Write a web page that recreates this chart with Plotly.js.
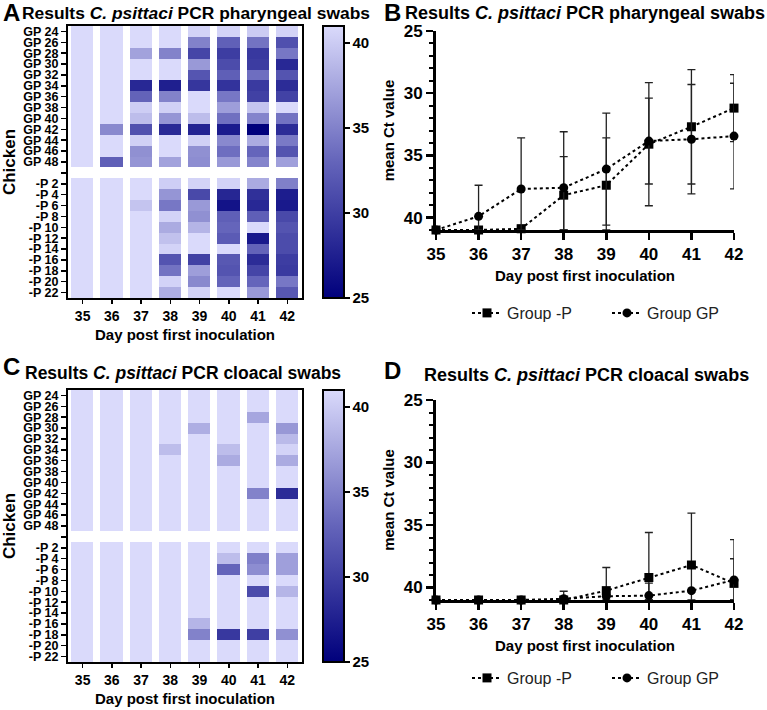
<!DOCTYPE html>
<html>
<head>
<meta charset="utf-8">
<script src="https://cdn.plot.ly/plotly-3.0.1.min.js"></script>
<style>html,body{margin:0;padding:0;background:#fff;}#chart{width:767px;height:710px;}</style>
</head>
<body>
<div id="chart"></div>
<script>
// ---------- DATA ----------
const days = [35, 36, 37, 38, 39, 40, 41, 42];
const gpLabels = ['GP 24','GP 26','GP 28','GP 30','GP 32','GP 34','GP 36','GP 38','GP 40','GP 42','GP 44','GP 46','GP 48'];
const pLabels = ['-P 2','-P 4','-P 6','-P 8','-P 10','-P 12','-P 14','-P 16','-P 18','-P 20','-P 22'];
const blankLabel = ' ';

// Pharyngeal swabs, Ct per chicken (columns = days 35..42)
const pharGP = [
  [41,41,41,41,40.5,40.5,40,40.5],
  [41,41,41,41,35,32.7,34,31.4],
  [41,41,37.2,35,30.5,29.9,29.5,34.3],
  [41,41,41,41,36.6,31.1,29.8,28.2],
  [41,41,41,41,31.8,32.6,33.7,31.7],
  [41,41,28.2,27.5,29.3,29.1,29.6,28.5],
  [41,41,32.9,35,41,34.3,30.2,30.3],
  [41,41,40.1,40.3,41,36.9,39.5,41],
  [41,41,39,36.3,39,33.8,35.2,34],
  [41,35.5,31.4,28.3,27.8,27.2,25,28.5],
  [41,41,40.3,41,40.3,35.5,37.8,34.5],
  [41,41,36,41,36,33.7,33.1,31.7],
  [41,32.6,36.3,37.2,35.8,36.6,35.2,37]
];
const pharP = [
  [41,41,41,40.2,40.5,40.5,37.8,34.9],
  [41,41,41,36.3,30.8,28,28.8,27.3],
  [41,41,39.5,34.3,36.6,26.5,28.2,27],
  [41,41,41,40.5,36,32.6,32.6,30.8],
  [41,41,41,37.8,38.4,33.1,41,31.7],
  [41,41,41,39.3,41,32.3,27,31.1],
  [41,41,41,40.5,41,41,32.9,31.1],
  [41,41,41,31.7,30.2,32,28.5,29.9],
  [41,41,41,34,36.9,31.7,30.5,29.6],
  [41,41,41,40.5,35.5,32.9,33.1,34.3],
  [41,41,41,38.1,40.5,41,36.6,32]
];
// Cloacal swabs
const clocGP = [
  [41,41,41,41,41,41,41,41],
  [41,41,41,41,41,41,41,41],
  [41,41,41,41,41,41,37.5,41],
  [41,41,41,41,38,41,41,36.5],
  [41,41,41,41,41,41,41,38.8],
  [41,41,41,39,41,39,41,40.5],
  [41,41,41,41,41,37.8,41,37.8],
  [41,41,41,41,41,41,41,41],
  [41,41,41,41,41,41,41,41],
  [41,41,41,41,41,41,35,28.5],
  [41,41,41,41,41,41,41,41],
  [41,41,41,41,41,41,41,41],
  [41,41,41,41,41,41,41,41]
];
const clocP = [
  [41,41,41,41,41,41,41,41],
  [41,41,41,41,41,39,34.8,37],
  [41,41,41,41,41,33,35.8,37],
  [41,41,41,41,41,41,41,41],
  [41,41,41,41,41,41,31,38.5],
  [41,41,41,41,41,41,41,41],
  [41,41,41,41,41,41,41,41],
  [41,41,41,41,38.5,41,41,41],
  [41,41,41,41,35,29.5,30,36],
  [41,41,41,41,41,41,41,41],
  [41,41,41,41,41,41,41,41]
];

// Mean Ct values with SD
const pharMeanP  = [41, 41, 40.9, 38.2, 37.4, 34.1, 32.7, 31.2];
const pharSdP    = [0, 0, 0.3, 3.1, 3.8, 4.95, 4.6, 2.7];
const pharMeanGP = [41, 39.9, 37.7, 37.6, 36.1, 33.85, 33.7, 33.45];
const pharSdGP   = [0, 2.5, 4.1, 4.5, 4.5, 3.45, 4.4, 4.25];
const clocMeanP  = [41, 41, 41, 41, 40.25, 39.2, 38.2, 39.67];
const clocSdP    = [0, 0, 0, 0, 1.85, 3.6, 4.15, 3.5];
const clocMeanGP = [41, 41, 41, 40.9, 40.7, 40.65, 40.25, 39.4];
const clocSdGP   = [0, 0, 0, 0.6, 0, 1.0, 0, 1.7];

const seriesNames = ['Group -P', 'Group GP'];
const ctMax = 41, ctMin = 25;

// ---------- BUILD ----------
const W = 767, H = 710;
const px = v => v / W;
const py = v => 1 - v / H;
const FONT = 'Liberation Sans, Arial, Helvetica, sans-serif';
const yLabels = [...gpLabels, blankLabel, ...pLabels];
const blankRow = days.map(() => null);
const zPhar = [...pharGP, blankRow, ...pharP];
const zCloc = [...clocGP, blankRow, ...clocP];
const cscale = [[0, 'rgb(0,0,124)'], [0.5, 'rgb(100,100,186)'], [1, 'rgb(218,218,251)']];

function heat(z, xa, ya, cbY) {
  return {
    type: 'heatmap', x: days, y: yLabels, z: z, xaxis: xa, yaxis: ya,
    zmin: ctMin, zmax: ctMax, colorscale: cscale, xgap: 7, ygap: 0,
    hoverongaps: false, showlegend: false,
    colorbar: {
      x: px(323), xanchor: 'left', y: cbY, yanchor: 'middle',
      len: 272 / H, lenmode: 'fraction', thickness: 21, thicknessmode: 'pixels',
      outlinewidth: 2, outlinecolor: '#000', xpad: 0, ypad: 0,
      tickvals: [25, 30, 35, 40], ticks: 'outside', ticklen: 5, tickwidth: 1.5, tickcolor: '#000',
      tickfont: {family: FONT, size: 15, weight: 'bold', color: '#000'}
    }
  };
}

function errArr(mean, sd) { return mean.map((m, i) => Math.min(sd[i], ctMax - m)); }

function line(mean, sd, name, symbol, xa, ya, legend, showLegend) {
  return {
    type: 'scatter', mode: 'lines+markers', x: days, y: mean, name: name,
    xaxis: xa, yaxis: ya, legend: legend, showlegend: showLegend, cliponaxis: false,
    line: {color: '#000', dash: 'dot', width: 2},
    marker: {symbol: symbol, size: 9, color: '#000'},
    error_y: {type: 'data', symmetric: false, array: errArr(mean, sd), arrayminus: sd,
              color: '#222', thickness: 1.3, width: 4}
  };
}

const data = [
  heat(zPhar, 'x', 'y', py(162)),
  line(pharMeanP, pharSdP, seriesNames[0], 'square', 'x2', 'y2', 'legend', true),
  line(pharMeanGP, pharSdGP, seriesNames[1], 'circle', 'x2', 'y2', 'legend', true),
  heat(zCloc, 'x3', 'y3', py(526)),
  line(clocMeanP, clocSdP, seriesNames[0], 'square', 'x4', 'y4', 'legend2', true),
  line(clocMeanGP, clocSdGP, seriesNames[1], 'circle', 'x4', 'y4', 'legend2', true)
];

const boldTick = s => ({family: FONT, size: s, weight: 'bold', color: '#000'});
const axTitle = (t, s, standoff) => ({text: t, font: {family: FONT, size: s, weight: 'bold', color: '#000'}, standoff: standoff});

function heatX(anchor) {
  return {domain: [px(68), px(302)], anchor: anchor, range: [34.5, 42.5], tickmode: 'array', tickvals: days,
    ticks: 'outside', ticklen: 4, tickwidth: 1.5, tickcolor: '#000', showline: true, mirror: true,
    linewidth: 2, linecolor: '#000', showgrid: false, zeroline: false, tickfont: boldTick(14),
    title: axTitle('Day post first inoculation', 15, 7), automargin: false};
}
function heatY(top, bottom, anchor) {
  return {domain: [py(bottom), py(top)], anchor: anchor, type: 'category', autorange: 'reversed',
    tickmode: 'array', tickvals: yLabels, ticktext: yLabels, ticks: 'outside', ticklen: 5, tickwidth: 1.5,
    tickcolor: '#000', showline: true, mirror: true, linewidth: 2, linecolor: '#000', showgrid: false,
    zeroline: false, tickfont: boldTick(12.5), title: axTitle('Chicken', 17, 3), automargin: false};
}
function lineX(anchor) {
  return {domain: [px(436), px(734)], anchor: anchor, range: [35, 42], tickmode: 'array', tickvals: days,
    ticks: 'outside', ticklen: 7, tickwidth: 2.5, tickcolor: '#000', showline: true, linewidth: 3,
    linecolor: '#000', showgrid: false, zeroline: false, tickfont: boldTick(17),
    title: axTitle('Day post first inoculation', 15, 8), automargin: false};
}
function lineY(top, bottom, anchor) {
  return {domain: [py(bottom), py(top)], anchor: anchor, range: [ctMax, ctMin], tickmode: 'array',
    tickvals: [25, 30, 35, 40], ticks: 'outside', ticklen: 7, tickwidth: 2.5, tickcolor: '#000',
    minor: {tickmode: 'linear', tick0: 25, dtick: 1, ticks: 'outside', ticklen: 4, tickwidth: 2, tickcolor: '#000'},
    showline: true, linewidth: 3, linecolor: '#000', showgrid: false, zeroline: false,
    tickfont: boldTick(17), title: axTitle('mean Ct value', 15, 6), automargin: false};
}
function legendAt(yPx) {
  return {orientation: 'h', x: px(467), xanchor: 'left', y: py(yPx), yanchor: 'middle',
    font: {family: FONT, size: 16, color: '#222'}, bgcolor: 'rgba(0,0,0,0)',
    entrywidth: 95, entrywidthmode: 'pixels', traceorder: 'normal'};
}

const ann = (x, y, text, size) => ({xref: 'paper', yref: 'paper', x: x, y: y, xanchor: 'left', yanchor: 'middle',
  text: text, showarrow: false, font: {family: FONT, size: size, color: '#000'}});

const layout = {
  width: W, height: H, margin: {l: 0, r: 0, t: 0, b: 0}, paper_bgcolor: '#fff', plot_bgcolor: '#fff',
  font: {family: FONT, color: '#000'},
  xaxis: heatX('y'), yaxis: heatY(26, 298, 'x'),
  xaxis2: lineX('y2'), yaxis2: lineY(31, 230, 'x2'),
  xaxis3: heatX('y3'), yaxis3: heatY(390, 662, 'x3'),
  xaxis4: lineX('y4'), yaxis4: lineY(400, 600, 'x4'),
  legend: legendAt(313), legend2: legendAt(678),
  annotations: [
    ann(px(1), py(13), '<b>A</b>', 24),
    ann(px(20), py(13), '<b>Results <i>C. psittaci</i> PCR pharyngeal swabs</b>', 17.4),
    ann(px(382), py(13), '<b>B</b>', 24),
    ann(px(403), py(13), '<b>Results <i>C. psittaci</i> PCR pharyngeal swabs</b>', 18),
    ann(px(1), py(366), '<b>C</b>', 24),
    ann(px(23), py(373), '<b>Results <i>C. psittaci</i> PCR cloacal swabs</b>', 17.5),
    ann(px(382), py(370), '<b>D</b>', 24),
    ann(px(422), py(375), '<b>Results <i>C. psittaci</i> PCR cloacal swabs</b>', 18)
  ]
};

Plotly.newPlot('chart', data, layout, {displayModeBar: false, staticPlot: true});
</script>
</body>
</html>
